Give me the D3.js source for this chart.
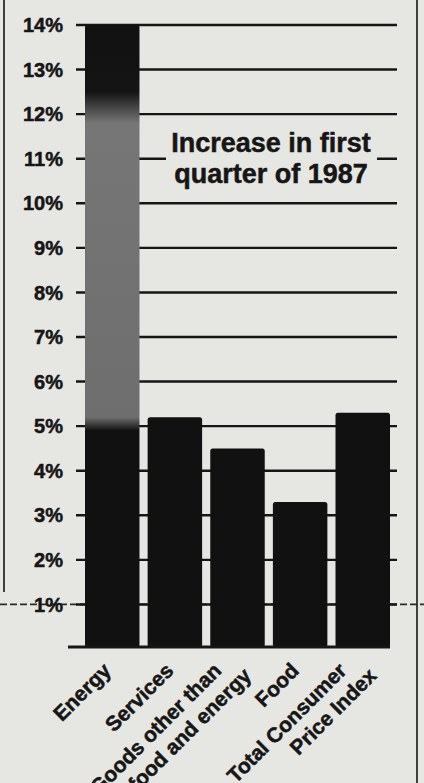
<!DOCTYPE html>
<html>
<head>
<meta charset="utf-8">
<script src="https://cdn.jsdelivr.net/npm/d3@7"></script>
<style>
  html, body { margin: 0; padding: 0; background: #e6e6e3; }
  svg { display: block; }
  text { font-family: "Liberation Sans", Arial, Helvetica, sans-serif; font-weight: bold; fill: #161616;
         stroke: #161616; stroke-width: 0.5; }
</style>
</head>
<body>
<svg width="424" height="783"></svg>
<script>
var categories = ["Energy", "Services", "Goods other than food and energy", "Food", "Total Consumer Price Index"];
var labelLines = [["Energy"], ["Services"], ["Goods other than", "food and energy"], ["Food"], ["Total Consumer", "Price Index"]];
var values = [14, 5.2, 4.5, 3.3, 5.3];
var tickValues = [1, 2, 3, 4, 5, 6, 7, 8, 9, 10, 11, 12, 13, 14];
var tickLabels = ["1%", "2%", "3%", "4%", "5%", "6%", "7%", "8%", "9%", "10%", "11%", "12%", "13%", "14%"];
var noteLines = ["Increase in first", "quarter of 1987"];

var svg = d3.select("svg");
var ink = "#161616";
var paper = "#e6e6e3";

var y = d3.scaleLinear().domain([0, 14]).range([649, 25]);
var x = d3.scaleBand().domain(categories).range([85, 390]).paddingInner(0.13);

// page borders
svg.append("line").attr("x1", 4).attr("x2", 4).attr("y1", 0).attr("y2", 592)
  .attr("stroke", ink).attr("stroke-width", 1.6);
svg.append("line").attr("x1", 417).attr("x2", 417).attr("y1", 0).attr("y2", 783)
  .attr("stroke", ink).attr("stroke-width", 1.6);

// fold line through 1%
svg.append("line").attr("x1", 0).attr("x2", 424).attr("y1", y(1)).attr("y2", y(1))
  .attr("stroke", "#2a2a2a").attr("stroke-width", 1.8).attr("stroke-dasharray", "7,3");

// gridlines (behind bars)
svg.append("g").selectAll("line").data(tickValues).enter().append("line")
  .attr("x1", 76).attr("x2", 397)
  .attr("y1", function(d) { return y(d); }).attr("y2", function(d) { return y(d); })
  .attr("stroke", ink).attr("stroke-width", 2.4);

// tick labels
svg.append("g").selectAll("text").data(tickValues).enter().append("text")
  .attr("x", 63).attr("y", function(d) { return y(d); }).attr("dy", "0.36em")
  .attr("text-anchor", "end").attr("font-size", 20)
  .text(function(d, i) { return tickLabels[i]; });

// energy bar shading
var grad = svg.append("defs").append("linearGradient").attr("id", "energyShade")
  .attr("gradientUnits", "userSpaceOnUse").attr("x1", 0).attr("x2", 0)
  .attr("y1", y(0)).attr("y2", y(14));
[[0, "#111"], [4.9, "#111"], [5.2, "#6e6e6e"], [11.8, "#767676"], [12.5, "#141414"], [14, "#111"]].forEach(function(s) {
  grad.append("stop").attr("offset", s[0] / 14).attr("stop-color", s[1]);
});

// bars
svg.append("g").selectAll("rect").data(values).enter().append("rect")
  .attr("x", function(d, i) { return x(categories[i]); })
  .attr("width", x.bandwidth())
  .attr("y", function(d) { return y(d); })
  .attr("height", function(d) { return y(0) - 2 - y(d); })
  .attr("rx", 2.5)
  .attr("fill", function(d, i) { return i === 0 ? "url(#energyShade)" : "#111"; });

// baseline
svg.append("line").attr("x1", 68).attr("x2", 390).attr("y1", 647).attr("y2", 647)
  .attr("stroke", ink).attr("stroke-width", 3);

// note box
svg.append("rect").attr("x", 166).attr("y", 126).attr("width", 211).attr("height", 66)
  .attr("fill", paper);
svg.append("g").selectAll("text").data(noteLines).enter().append("text")
  .attr("x", 271).attr("y", function(d, i) { return 152 + i * 31; })
  .attr("text-anchor", "middle").attr("font-size", 27)
  .text(function(d) { return d; });

// category labels: each line ends on a row just under the baseline, stepped sideways
var lab = svg.append("g");
labelLines.forEach(function(lines, i) {
  var cx = x(categories[i]) + x.bandwidth() / 2;
  var n = lines.length;
  lines.forEach(function(line, j) {
    var off = (j - (n - 1) / 2) * 30;
    lab.append("text")
      .attr("transform", "translate(" + (cx + off) + "," + (672 + j * 5) + ") rotate(-45)")
      .attr("text-anchor", "end").attr("font-size", 21)
      .text(line);
  });
});
</script>
</body>
</html>
